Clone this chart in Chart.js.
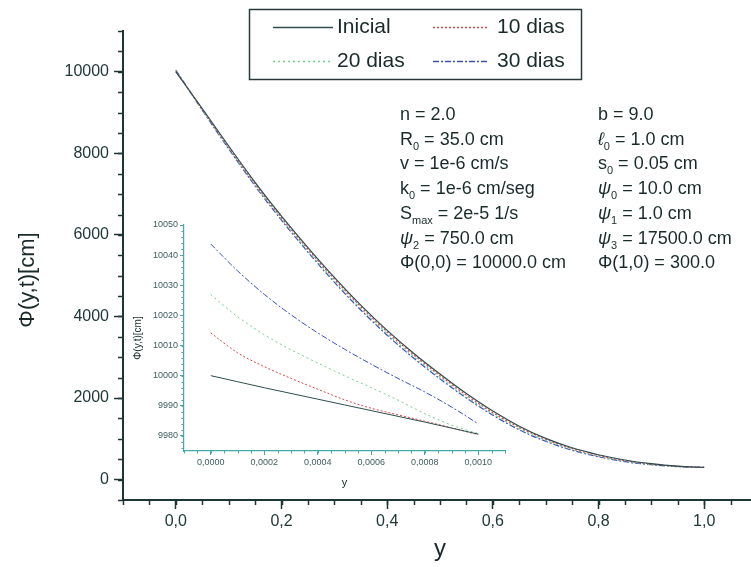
<!DOCTYPE html>
<html lang="pt">
<head>
<meta charset="utf-8">
<title>Φ(y,t)</title>
<script src="https://cdn.jsdelivr.net/npm/chart.js@4.4.1/dist/chart.umd.min.js"></script>
<style>
  html, body { margin: 0; padding: 0; overflow: hidden; background: #fff; }
  #wrap { position: relative; width: 751px; height: 567px; overflow: hidden; }
  canvas { position: absolute; left: 0; top: 0; }
  #inset { pointer-events: none; }
</style>
</head>
<body>
<div id="wrap">
  <canvas id="main" width="760" height="567"></canvas>
  <canvas id="inset" width="760" height="567"></canvas>
</div>
<script>
// ---- dados ----
const seriesNames = ['Inicial', '10 dias', '20 dias', '30 dias'];

// gráfico principal: y de 0 a 1
const mainY = [0, 0.05, 0.1, 0.15, 0.2, 0.25, 0.3, 0.35, 0.4, 0.45, 0.5,
               0.55, 0.6, 0.65, 0.7, 0.75, 0.8, 0.85, 0.9, 0.95, 1.0];
const mainInicial = [10000, 9100, 8180, 7290, 6460, 5690, 4960, 4280, 3660, 3100, 2590,
                     2110, 1680, 1310, 1010, 780, 610, 480, 390, 330, 300];
const main10 = [10014, 9080, 8150, 7250, 6420, 5650, 4920, 4240, 3620, 3060, 2550,
                2070, 1640, 1280, 990, 760, 590, 465, 380, 325, 300];
const main20 = [10027, 9070, 8130, 7230, 6390, 5610, 4880, 4200, 3580, 3020, 2510,
                2030, 1610, 1250, 960, 740, 575, 450, 370, 320, 300];
const main30 = [10044, 9060, 8110, 7200, 6360, 5580, 4840, 4160, 3540, 2980, 2470,
                2000, 1580, 1220, 940, 720, 560, 440, 365, 318, 300];

// detalhe: y de 0 a 0,001
const insetY = [0, 0.0001, 0.0002, 0.0003, 0.0004, 0.0005, 0.0006, 0.0007, 0.0008, 0.0009, 0.001];
const insetInicial = [10000, 9998.0, 9996.0, 9994.1, 9992.2, 9990.3, 9988.4, 9986.5, 9984.6, 9982.6, 9980.6];
const inset10 = [10014.2, 10007.6, 10003.0, 9999.1, 9995.5, 9992.0, 9989.2, 9987.0, 9984.9, 9982.7, 9980.4];
const inset20 = [10026.9, 10019.6, 10013.6, 10008.6, 10004.2, 10000.0, 9996.0, 9991.9, 9987.4, 9983.6, 9980.8];
const inset30 = [10043.7, 10034.8, 10027.0, 10020.2, 10014.2, 10008.8, 10003.8, 9999.1, 9994.6, 9989.6, 9984.0];

// rótulos dos eixos
const mainXTicks = [0, 0.2, 0.4, 0.6, 0.8, 1.0];
const mainYTicks = [0, 2000, 4000, 6000, 8000, 10000];
const insetXTicks = [0, 0.0002, 0.0004, 0.0006, 0.0008, 0.001];
const insetYTicks = [9980, 9990, 10000, 10010, 10020, 10030, 10040, 10050];

// parâmetros (texto)
const paramsLeft = ['n = 2.0', 'R_{0} = 35.0 cm', 'v = 1e-6 cm/s', 'k_{0} = 1e-6 cm/seg',
                    'S_{max} = 2e-5 1/s', 'ψ_{2} = 750.0 cm', 'Φ(0,0) = 10000.0 cm'];
const paramsRight = ['b = 9.0', 'ℓ_{0} = 1.0 cm', 's_{0} = 0.05 cm', 'ψ_{0} = 10.0 cm',
                     'ψ_{1} = 1.0 cm', 'ψ_{3} = 17500.0 cm', 'Φ(1,0) = 300.0'];

// ---- estilos ----
const FONT = "'Liberation Sans', Arial, sans-serif";
const NARROW = "'Liberation Sans Narrow', 'Arial Narrow', 'Liberation Sans', sans-serif";
const lineColors = ['#2f4d4d', '#d9464b', '#6fd08c', '#3b4fc4'];
const lineDashes = [[], [2, 2], [2, 3], [6, 2, 2, 2]];
const AXIS = '#1f3434';
const INSET_AXIS = '#45a9a9';

Chart.defaults.font.family = FONT;
Chart.defaults.devicePixelRatio = 1;

function toPoints(xs, ys) {
  return xs.map((x, i) => ({ x, y: ys[i] }));
}

function makeDatasets(xs, all, width) {
  return all.map((ys, i) => ({
    label: seriesNames[i],
    data: toPoints(xs, ys),
    borderColor: lineColors[i],
    borderDash: lineDashes[i],
    borderWidth: width,
    pointRadius: 0,
    fill: false,
    cubicInterpolationMode: 'monotone'
  }));
}

// pequenos traços secundários nos eixos
const minorTicks = {
  id: 'minorTicks',
  afterDraw(chart, args, opts) {
    const ctx = chart.ctx;
    ctx.save();
    ctx.strokeStyle = opts.color;
    ctx.lineWidth = opts.width;
    ctx.beginPath();
    opts.list.forEach(([id, step, len]) => {
      const s = chart.scales[id];
      let v = Math.ceil(s.min / step - 1e-9) * step;
      for (; v <= s.max + step * 1e-6; v += step) {
        const p = Math.round(s.getPixelForValue(v)) + 0.5;
        if (s.isHorizontal()) { ctx.moveTo(p, s.top); ctx.lineTo(p, s.top + len); }
        else { ctx.moveTo(s.right - len, p); ctx.lineTo(s.right, p); }
      }
    });
    ctx.stroke();
    ctx.restore();
  }
};

function drawRich(ctx, str, x, y) {
  const parts = str.split(/_\{([^}]*)\}/);
  parts.forEach((part, i) => {
    const sub = i % 2 === 1;
    part.split(/([ψℓ])/).forEach(chunk => {
      if (!chunk) return;
      const italic = chunk === 'ψ' || chunk === 'ℓ';
      ctx.font = (italic ? 'italic ' : '') + (sub ? 11 : 18) + 'px ' + FONT;
      ctx.fillText(chunk, x, sub ? y + 5 : y);
      x += ctx.measureText(chunk).width;
    });
  });
}

// legenda, parâmetros e título do eixo vertical
const decorations = {
  id: 'decorations',
  afterDraw(chart) {
    const ctx = chart.ctx;
    ctx.save();

    // caixa da legenda
    ctx.strokeStyle = '#2a3a3a';
    ctx.lineWidth = 1.5;
    ctx.strokeRect(249.5, 9.5, 332, 70);
    ctx.font = '21px ' + FONT;
    ctx.fillStyle = '#1a2a2a';
    ctx.textBaseline = 'middle';
    chart.data.datasets.forEach((ds, i) => {
      const col = i % 2, row = Math.floor(i / 2);
      const x0 = [273, 433][col], x1 = [333, 487][col], tx = [337, 497][col];
      const y = [27, 61][row];
      ctx.beginPath();
      ctx.setLineDash(ds.borderDash);
      ctx.strokeStyle = ds.borderColor;
      ctx.lineWidth = 1.5;
      ctx.moveTo(x0, y + 0.5);
      ctx.lineTo(x1, y + 0.5);
      ctx.stroke();
      ctx.setLineDash([]);
      ctx.fillText(ds.label, tx, y);
    });

    // parâmetros
    ctx.textBaseline = 'alphabetic';
    paramsLeft.forEach((s, i) => drawRich(ctx, s, 400, 120 + i * 24.7));
    paramsRight.forEach((s, i) => drawRich(ctx, s, 598, 120 + i * 24.7));

    // título do eixo vertical
    ctx.translate(28, 280);
    ctx.rotate(-Math.PI / 2);
    ctx.textAlign = 'center';
    ctx.textBaseline = 'middle';
    ctx.font = '22px ' + FONT;
    ctx.fillText('Φ(y,t)[cm]', 0, 0);
    ctx.restore();
  }
};

const comma = d => v => v.toFixed(d).replace('.', ',');
const plain = v => String(v);

new Chart(document.getElementById('main'), {
  type: 'line',
  data: { datasets: makeDatasets(mainY, [mainInicial, main10, main20, main30], 1.2) },
  plugins: [minorTicks, decorations],
  options: {
    responsive: false,
    animation: false,
    layout: { padding: { left: 0, top: 31, right: 3, bottom: 0 } },
    plugins: {
      legend: { display: false },
      tooltip: { enabled: false },
      minorTicks: { color: AXIS, width: 1.5, list: [['x', 0.05, 5], ['y', 500, 5]] }
    },
    scales: {
      x: {
        type: 'linear', min: -0.1, max: 1.1,
        afterFit: s => { s.height = 67; },
        afterBuildTicks: s => { s.ticks = mainXTicks.map(value => ({ value })); },
        ticks: { callback: comma(1), font: { size: 16 }, color: '#203838', padding: 3, maxRotation: 0 },
        grid: { drawOnChartArea: false, tickLength: 9, tickColor: AXIS, tickWidth: 1.5 },
        border: { color: AXIS, width: 2 },
        title: { display: true, text: 'y', font: { size: 24 }, color: '#1a2a2a', padding: { top: 0, bottom: 3 } }
      },
      y: {
        type: 'linear', min: -500, max: 11000,
        afterFit: s => { s.width = 123; },
        afterBuildTicks: s => { s.ticks = mainYTicks.map(value => ({ value })); },
        ticks: { callback: plain, font: { size: 16 }, color: '#203838', padding: 5 },
        grid: { drawOnChartArea: false, tickLength: 9, tickColor: AXIS, tickWidth: 1.5 },
        border: { color: AXIS, width: 2 }
      }
    }
  }
});

new Chart(document.getElementById('inset'), {
  type: 'line',
  data: { datasets: makeDatasets(insetY, [insetInicial, inset10, inset20, inset30], 1) },
  plugins: [minorTicks],
  options: {
    responsive: false,
    animation: false,
    layout: { padding: { left: 0, top: 225, right: 255, bottom: 0 } },
    plugins: {
      legend: { display: false },
      tooltip: { enabled: false },
      minorTicks: { color: INSET_AXIS, width: 1, list: [['x', 0.00005, 2.5], ['y', 2, 2.5]] }
    },
    scales: {
      x: {
        type: 'linear', min: -0.0001, max: 0.0011,
        afterFit: s => { s.height = 116; },
        afterBuildTicks: s => { s.ticks = insetXTicks.map(value => ({ value })); },
        ticks: { callback: comma(4), font: { size: 9, family: NARROW }, color: '#3f5c5c', padding: 2, maxRotation: 0 },
        grid: { drawOnChartArea: false, tickLength: 4, tickColor: INSET_AXIS, tickWidth: 1 },
        border: { color: INSET_AXIS, width: 1.2 },
        title: { display: true, text: 'y', font: { size: 11 }, color: '#1a2a2a', padding: { top: 0, bottom: 77 } }
      },
      y: {
        type: 'linear', min: 9975, max: 10050,
        afterFit: s => { s.width = 184; },
        afterBuildTicks: s => { s.ticks = insetYTicks.map(value => ({ value })); },
        ticks: { callback: plain, font: { size: 9, family: NARROW }, color: '#3f5c5c', padding: 2 },
        grid: { drawOnChartArea: false, tickLength: 4, tickColor: INSET_AXIS, tickWidth: 1 },
        border: { color: INSET_AXIS, width: 1.2 },
        title: { display: true, text: 'Φ(y,t)[cm]', font: { size: 10 }, color: '#1a2a2a', padding: { top: 132, bottom: 0 } }
      }
    }
  }
});
</script>
</body>
</html>
